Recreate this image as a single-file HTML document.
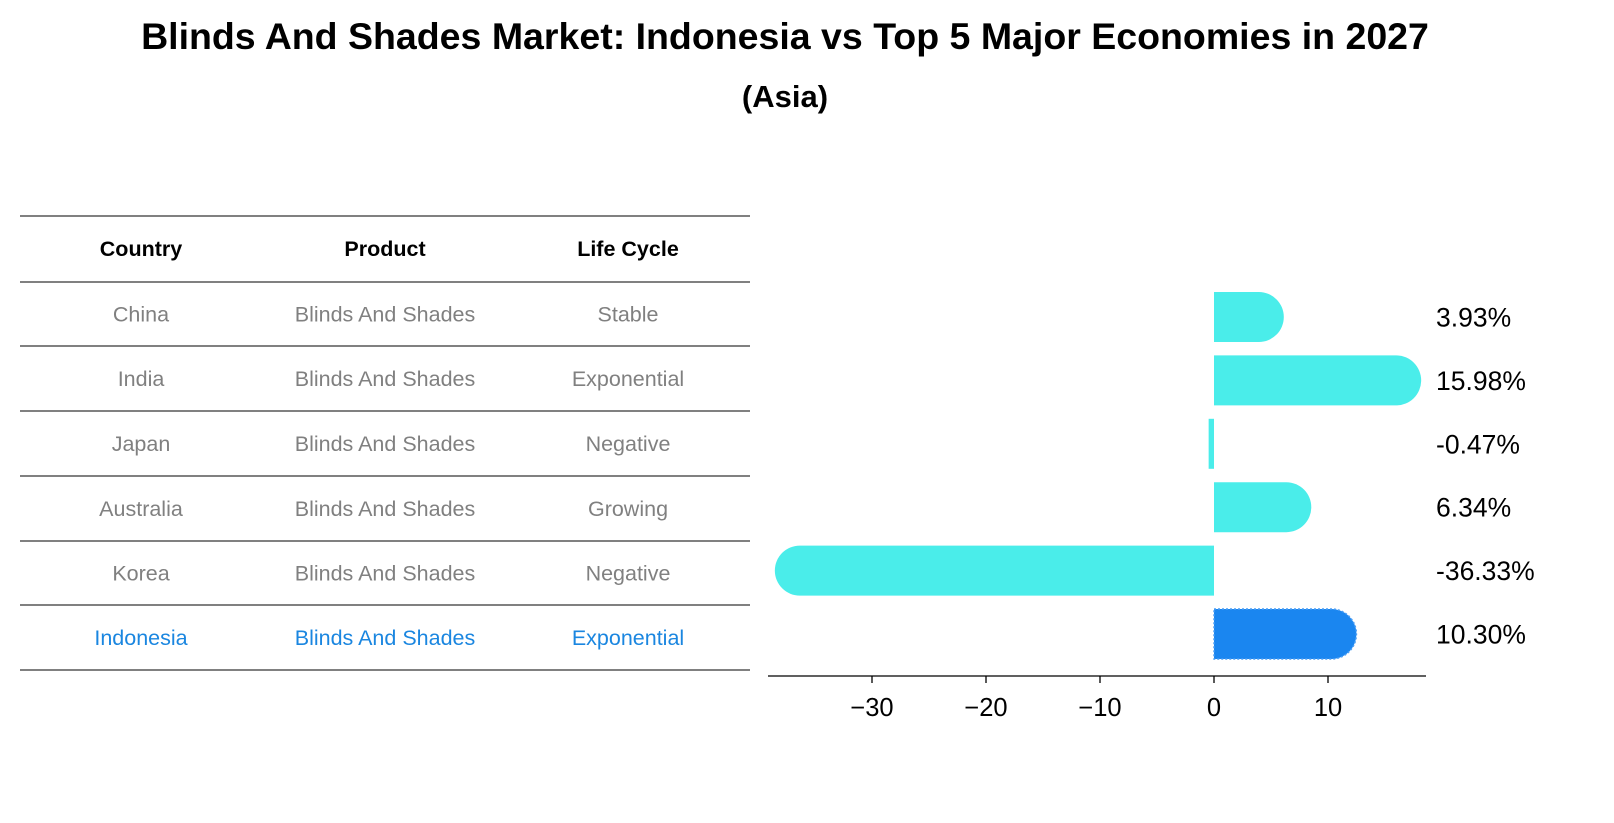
<!DOCTYPE html>
<html><head><meta charset="utf-8"><style>
body{margin:0;background:#fff;font-family:"Liberation Sans","DejaVu Sans",sans-serif}
svg{display:block}
</style></head><body>
<svg id="c" width="1614" height="823" xmlns="http://www.w3.org/2000/svg">
<text x="785" y="49" text-anchor="middle" font-size="37.5" font-weight="bold" font-family="Liberation Sans,DejaVu Sans,sans-serif">Blinds And Shades Market: Indonesia vs Top 5 Major Economies in 2027</text>
<text x="785" y="107" text-anchor="middle" font-size="31" font-weight="bold" font-family="Liberation Sans,DejaVu Sans,sans-serif">(Asia)</text>
<g id="table"></g>
<g id="bars"></g>
</svg>
<script>
const countries=["China","India","Japan","Australia","Korea","Indonesia"];
const products=["Blinds And Shades","Blinds And Shades","Blinds And Shades","Blinds And Shades","Blinds And Shades","Blinds And Shades"];
const lifeCycles=["Stable","Exponential","Negative","Growing","Negative","Exponential"];
const growth=[3.93,15.98,-0.47,6.34,-36.33,10.30];
const ticks=[-30,-20,-10,0,10];
const NS="http://www.w3.org/2000/svg";
const FF="Liberation Sans,DejaVu Sans,sans-serif";
function mk(t,a,p){const e=document.createElementNS(NS,t);for(const k in a)e.setAttribute(k,a[k]);p.appendChild(e);return e;}
const tb=document.getElementById('table');
const colX=[141,385,628];
const lineY=[216,282,346,411,476,541,605,670];
lineY.forEach(y=>{const l=mk('line',{x1:20,x2:750,y1:y,y2:y,stroke:'#000','stroke-width':1},tb);

});
["Country","Product","Life Cycle"].forEach((h,i)=>{const t=mk('text',{x:colX[i],y:256,'text-anchor':'middle','font-size':21.5,'font-weight':'bold','font-family':FF},tb);t.textContent=h;

});
countries.forEach((c,r)=>{const y=(lineY[r+1]+lineY[r+2])/2+7.5;const col=r===countries.length-1?'#1a86e0':'#808080';
[c,products[r],lifeCycles[r]].forEach((v,i)=>{const t=mk('text',{x:colX[i],y:y,'text-anchor':'middle','font-size':21.5,fill:col,'font-family':FF},tb);t.textContent=v;

});});
const bg=document.getElementById('bars');
const x0=1214,sc=11.4;const xs=v=>x0+v*sc;
const rowY=r=>317+r*63.4;const h=50;
growth.forEach((v,r)=>{const cy=rowY(r);const x1=xs(v);const w=Math.abs(x1-x0);const dir=v>=0?1:-1;
const last=r===growth.length-1;const col=last?'#1a86f0':'#4aedea';
const d=`M${x0},${cy-h/2} L${x1},${cy-h/2} A25,25 0 0 ${dir>0?1:0} ${x1},${cy+h/2} L${x0},${cy+h/2} Z`;
let p;
if(w<25){p=mk('rect',{x:Math.min(x0,x1),y:cy-h/2,width:Math.max(w,4),height:h,fill:col},bg);}
else p=mk('path',{d:d,fill:col},bg);
if(last){p.setAttribute('stroke','#4a9ef5');p.setAttribute('stroke-dasharray','2,2');p.setAttribute('stroke-width','1.5');}


const t=mk('text',{x:1436,y:cy+9.5,'font-size':26.5,'font-family':FF},bg);t.textContent=v.toFixed(2)+'%';

});
const ax=mk('line',{x1:768,x2:1426,y1:676,y2:676,stroke:'#000','stroke-width':1.3},bg);


ticks.forEach(tv=>{const x=xs(tv);const l=mk('line',{x1:x,x2:x,y1:676,y2:683,stroke:'#000','stroke-width':1.3},bg);


const t=mk('text',{x:x,y:716,'text-anchor':'middle','font-size':25.5,'font-family':FF},bg);t.textContent=(tv<0?'\u2212'+(-tv):tv);

});
</script>
</body></html>
